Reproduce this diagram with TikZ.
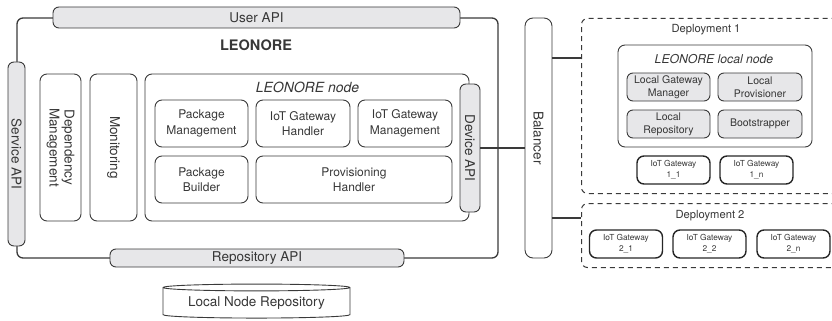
\documentclass[tikz,border=0pt]{standalone}
\usepackage{fontspec}
\setmainfont{TeX Gyre Heros}
\definecolor{linegray}{RGB}{58, 58, 58}
\definecolor{apigray}{RGB}{231, 231, 233}
\definecolor{textgray}{RGB}{55, 55, 55}
\usetikzlibrary{shapes,arrows,positioning}
\newcommand{\bigtxt}{\fontsize{13.5}{15}\selectfont}
\newcommand{\midtxt}{\fontsize{12}{15.5}\selectfont}
\newcommand{\smalltxt}{\fontsize{10.5}{13}\selectfont}
\newcommand{\tinytxt}{\fontsize{8.3}{11}\selectfont}
\tikzstyle{block} = [rectangle, draw=linegray, line width=0.9pt, text=textgray,
    align=center, rounded corners=7pt, inner sep=0pt, font=\bigtxt]
\tikzstyle{api} = [block, fill=apigray, rounded corners=6pt]
\tikzstyle{component} = [block, font=\midtxt, minimum height=47pt]
\tikzstyle{local} = [block, fill=apigray, rounded corners=6pt, font=\smalltxt,
    minimum width=83pt, minimum height=28pt]
\tikzstyle{gateway} = [block, draw=black!85, line width=1.4pt, font=\tinytxt,
    minimum width=73pt, minimum height=28pt]
\tikzstyle{deploy} = [rectangle, draw=linegray, line width=1pt,
    dash pattern=on 5pt off 4pt, rounded corners=6pt, anchor=north west]
\tikzstyle{caption} = [text=textgray]
\tikzstyle{link} = [draw=linegray, line width=1.2pt]

\begin{document}
\begin{tikzpicture}[x=1pt, y=-1pt]
  \useasboundingbox (0,0) rectangle (832,321);
  % main server with its three API bars on top of the frame
  \node [block, line width=1.3pt, rounded corners=6pt, minimum width=481pt,
    minimum height=240pt] (leonore) at (257.5,138) {};
  \node [caption, font=\fontsize{14.5}{16}\selectfont\bfseries] (title) at (256,45) {LEONORE};
  \node [api, minimum width=407pt, minimum height=21pt] (userapi) at (256.5,17.5)
    {User API};
  \node [api, rotate=-90, minimum width=184pt, minimum height=17pt] (serviceapi)
    at (16.5,154) {Service API};
  \node [api, minimum width=294pt, minimum height=18pt] (repoapi) at (257,258)
    {Repository API};

  \node [block, rotate=-90, minimum width=147pt, minimum height=41pt] (depmgmt)
    at (60.5,147.5) {Dependency\\Management};
  \node [block, rotate=-90, minimum width=147pt, minimum height=47pt] (monitoring)
    at (113.5,147.5) {Monitoring};

  % node box and its components
  \node [block, minimum width=324pt, minimum height=147pt] (node) at (307,147.5) {};
  \node [caption, font=\fontsize{14}{16}\selectfont\itshape] (nodetitle) at (307.5,87)
    {LEONORE node};
  \node [component, minimum width=93pt] (pkgmgmt) at (201.5,123.5)
    {Package\\Management};
  \node [component, right of=pkgmgmt, node distance=101.5pt, minimum width=94pt]
    (gwhandler) {IoT Gateway\\Handler};
  \node [component, right of=gwhandler, node distance=102pt, minimum width=94pt]
    (gwmgmt) {IoT Gateway\\Management};
  \node [component, below of=pkgmgmt, node distance=56pt, minimum width=93pt]
    (pkgbuilder) {Package\\Builder};
  \node [component, minimum width=196pt] (provhandler) at (354,179.5)
    {Provisioning\\Handler};
  \node [api, rotate=-90, minimum width=128pt, minimum height=20pt] (deviceapi)
    at (470,148) {Device API};

  \node [block, rotate=-90, rounded corners=8pt, minimum width=240pt,
    minimum height=27pt] (balancer) at (538.5,138) {Balancer};

  % deployments run off the right edge
  \begin{scope}
    \clip (0,0) rectangle (832,321);
    \node [deploy, minimum width=270pt, minimum height=175pt] (dep1) at (581,18) {};
    \node [deploy, minimum width=270pt, minimum height=64pt] (dep2) at (581,203) {};
  \end{scope}
  \node [caption, font=\fontsize{11.2}{13}\selectfont] (dep1title) at (706,30) {Deployment 1};
  \node [caption, font=\fontsize{11.2}{13}\selectfont] (dep2title) at (710,216) {Deployment 2};

  \node [block, minimum width=194pt, minimum height=102pt] (localnode) at (715,96) {};
  \node [caption, font=\fontsize{12.2}{14}\selectfont\itshape] (localtitle) at (714,59)
    {LEONORE local node};
  \node [local] (lgwmgr) at (668.5,87) {Local Gateway\\Manager};
  \node [local, right of=lgwmgr, node distance=91.5pt, minimum width=84pt] (lprov)
    {Local\\Provisioner};
  \node [local, below of=lgwmgr, node distance=37pt] (lrepo) {Local\\Repository};
  \node [local, below of=lprov, node distance=37pt, minimum width=84pt] (boot)
    {Bootstrapper};

  \node [gateway] (gw11) at (673.5,170) {IoT Gateway\\1\_1};
  \node [gateway, right of=gw11, node distance=83pt] (gw1n) {IoT Gateway\\1\_n};
  \node [gateway] (gw21) at (626,244) {IoT Gateway\\2\_1};
  \node [gateway, right of=gw21, node distance=83.5pt] (gw22) {IoT Gateway\\2\_2};
  \node [gateway, right of=gw22, node distance=84pt] (gw2n) {IoT Gateway\\2\_n};

  \node [cylinder, shape border rotate=90, aspect=0.05, draw=linegray, line width=0.9pt,
    text=textgray, font=\bigtxt, minimum width=187pt, minimum height=34pt,
    inner sep=0pt] (localrepo) at (256.5,303) {Local Node Repository};

  \coordinate (d1in) at (581,58);
  \coordinate (d2in) at (581,218);
  \path [link] (deviceapi.north) -- (deviceapi.north -| balancer.south);
  \path [link] (d1in -| balancer.north) -- (d1in);
  \path [link] (d2in -| balancer.north) -- (d2in);
\end{tikzpicture}
\end{document}
